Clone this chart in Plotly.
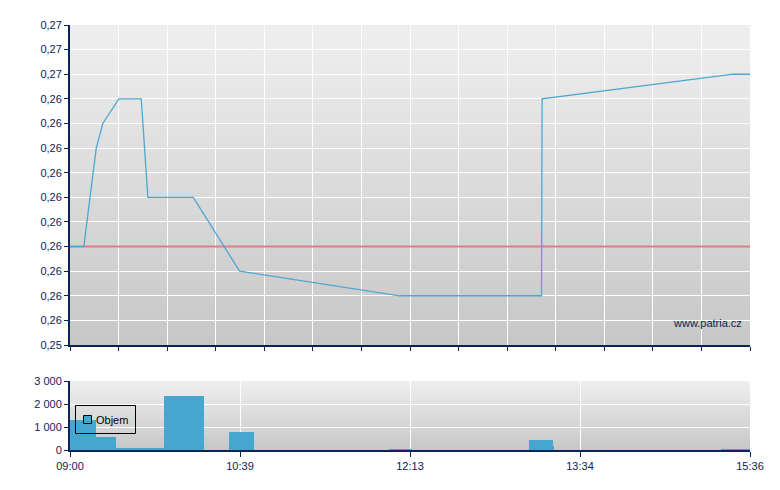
import base64
import plotly.graph_objects as go

# ---------------- data ----------------
# x positions are on the chart's session scale (0 = 09:00 open, 100 = 15:36 last)
x_tick_pos = [0, 25, 50, 75, 100]
x_tick_labels = ["09:00", "10:39", "12:13", "13:34", "15:36"]

price_x = [0.0, 2.03, 3.86, 4.83, 7.18, 10.48, 11.45, 18.13, 24.94, 48.49, 69.34, 69.43, 97.54, 100.0]
price_y = [0.258, 0.258, 0.262, 0.263, 0.264, 0.264, 0.260, 0.260, 0.257, 0.256, 0.256, 0.264, 0.265, 0.265]
prev_close = 0.258

vol_start = [0.0, 3.75, 6.70, 12.10, 13.76, 23.33, 46.87, 67.48, 70.96, 95.73]
vol_y = [1300, 580, 100, 50, 2340, 790, 40, 440, 180, 40]
vol_span = [3.75, 2.95, 5.40, 1.66, 5.99, 3.68, 3.49, 3.48, 0.20, 4.27]

price_ticks = [0.254, 0.255, 0.256, 0.257, 0.258, 0.259, 0.260, 0.261,
               0.262, 0.263, 0.264, 0.265, 0.266, 0.267]
price_tick_labels = ["0,25", "0,26", "0,26", "0,26", "0,26", "0,26", "0,26", "0,26",
                     "0,26", "0,26", "0,26", "0,27", "0,27", "0,27"]
vol_ticks = [0, 1000, 2000, 3000]
vol_tick_labels = ["0", "1 000", "2 000", "3 000"]
top_grid_ticks = [i * 100 / 14 for i in range(15)]

# ---------------- style ----------------
NAVY = "#0b2458"
LINE = "#4ea7d2"
BAR = "#46a6d0"
RED = "#d98080"
FONT = "Liberation Sans, Arial, sans-serif"

fig = go.Figure()

fig.add_trace(go.Scatter(x=[0, 100], y=[prev_close, prev_close], mode="lines",
                         line=dict(color=RED, width=2), hoverinfo="skip",
                         showlegend=False, xaxis="x", yaxis="y"))
fig.add_trace(go.Scatter(x=price_x, y=price_y, mode="lines",
                         line=dict(color=LINE, width=1.3), showlegend=False,
                         xaxis="x", yaxis="y"))
fig.add_trace(go.Bar(x=vol_start, y=vol_y, width=vol_span, offset=0,
                     marker=dict(color=BAR, line=dict(width=0)), showlegend=False,
                     xaxis="x2", yaxis="y2"))

# vertical grey gradient background (SVG image placed under the grid)
svg = ("<svg xmlns='http://www.w3.org/2000/svg' width='100' height='100' "
       "viewBox='0 0 100 100' preserveAspectRatio='none'>"
       "<defs><linearGradient id='g' x1='0' y1='0' x2='0' y2='1'>"
       "<stop offset='0' stop-color='#efefef'/><stop offset='1' stop-color='#c7c7c7'/>"
       "</linearGradient></defs><rect x='0' y='0' width='100' height='100' fill='url(#g)'/></svg>")
svg_uri = "data:image/svg+xml;base64," + base64.b64encode(svg.encode()).decode()

images = [
    dict(source=svg_uri, xref="x domain", yref="y domain", x=0, y=1, sizex=1, sizey=1,
         xanchor="left", yanchor="top", sizing="stretch", layer="below"),
    dict(source=svg_uri, xref="x2 domain", yref="y2 domain", x=0, y=1, sizex=1, sizey=1,
         xanchor="left", yanchor="top", sizing="stretch", layer="below"),
]

# legend (drawn by hand to match the compact boxed legend); page-pixel helpers
PW, PH, L, B = 680.0, 425.0, 70.0, 450.0


def px_x(v):
    return (v - L) / PW


def px_y(v):
    return (B - v) / PH


shapes = [
    dict(type="rect", xref="paper", yref="paper",
         x0=px_x(75.5), x1=px_x(135.5), y0=px_y(433.5), y1=px_y(405.5),
         line=dict(color="#000000", width=1), fillcolor="rgba(0,0,0,0)", layer="above"),
    dict(type="rect", xref="paper", yref="paper",
         x0=px_x(83.5), x1=px_x(91.5), y0=px_y(423.5), y1=px_y(415.5),
         line=dict(color="#000000", width=1), fillcolor=BAR, layer="above"),
]

annotations = [
    dict(text="Objem", xref="paper", yref="paper", x=px_x(94), y=px_y(420),
         xanchor="left", yanchor="middle", showarrow=False,
         font=dict(family=FONT, size=11, color="#000000")),
    dict(text="www.patria.cz", xref="paper", yref="paper", x=px_x(744), y=px_y(323),
         xanchor="right", yanchor="middle", showarrow=False,
         font=dict(family=FONT, size=11, color=NAVY)),
]

axis_common = dict(showline=True, linecolor=NAVY, linewidth=2, ticks="outside",
                   tickcolor=NAVY, tickwidth=1.2, ticklen=4, gridcolor="#ffffff",
                   gridwidth=1, zeroline=False, mirror=False,
                   tickfont=dict(family=FONT, size=11, color=NAVY))

# the page body has an 8px margin, so the figure is sized/margined to compensate
fig.update_layout(
    width=772, height=482,
    margin=dict(l=62, r=30, t=17, b=40),
    paper_bgcolor="#ffffff", plot_bgcolor="#dcdcdc",
    showlegend=False,
    bargap=0,
    xaxis=dict(domain=[0, 1], range=[0, 100], tickmode="array", tickvals=top_grid_ticks,
               showticklabels=False, anchor="y", showgrid=True, **axis_common),
    yaxis=dict(domain=[(450 - 345) / 425, 1], range=[0.254, 0.267], tickmode="array",
               tickvals=price_ticks, ticktext=price_tick_labels, anchor="x",
               showgrid=True, **axis_common),
    xaxis2=dict(domain=[0, 1], range=[0, 100], tickmode="array", tickvals=x_tick_pos,
                ticktext=x_tick_labels, anchor="y2", showgrid=True, ticklen=5,
                **{k: v for k, v in axis_common.items() if k != "ticklen"}),
    yaxis2=dict(domain=[0, (450 - 381) / 425], range=[0, 3000], tickmode="array",
                tickvals=vol_ticks, ticktext=vol_tick_labels, anchor="x2",
                showgrid=True, **axis_common),
    images=images,
    shapes=shapes,
    annotations=annotations,
)

fig.write_html("out.html")
